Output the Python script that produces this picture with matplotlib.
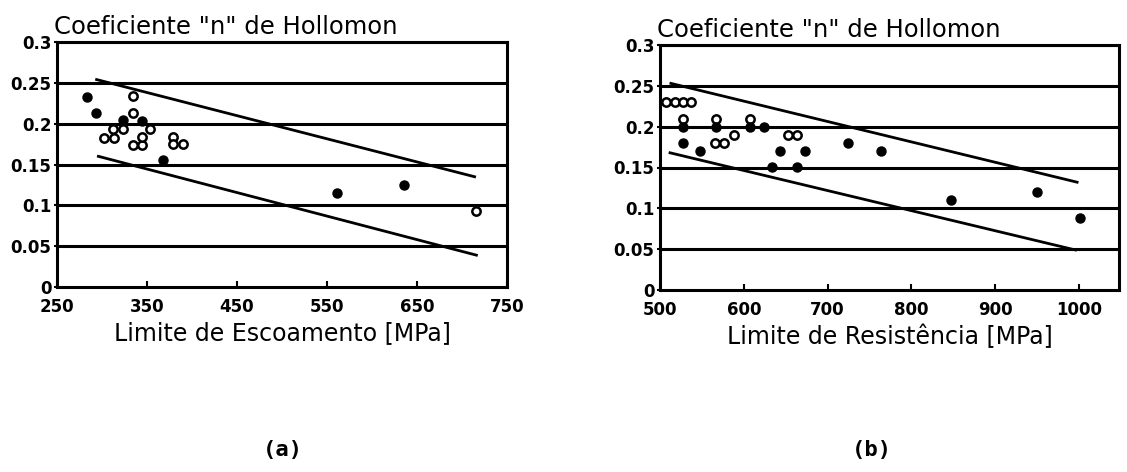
import matplotlib
matplotlib.use("Agg")
import matplotlib.pyplot as plt

# (a) Limite de Escoamento [MPa] vs n
a_open_x = [302, 313, 312, 323, 353, 334, 344, 344, 379, 379, 390, 334, 334, 716]
a_open_n = [0.183, 0.183, 0.194, 0.194, 0.194, 0.174, 0.174, 0.184, 0.184, 0.175, 0.175, 0.234, 0.213, 0.093]
a_fill_x = [283, 293, 323, 344, 368, 561, 636]
a_fill_n = [0.233, 0.213, 0.204, 0.203, 0.156, 0.115, 0.125]
a_upper_x, a_upper_n = [294, 714], [0.254, 0.135]
a_lower_x, a_lower_n = [296, 716], [0.160, 0.039]

# (b) Limite de Resistencia [MPa] vs n
b_open_x = [507, 518, 527, 537, 528, 567, 608, 566, 576, 588, 653, 663]
b_open_n = [0.230, 0.230, 0.230, 0.230, 0.210, 0.210, 0.210, 0.180, 0.180, 0.190, 0.190, 0.190]
b_fill_x = [528, 567, 608, 624, 528, 548, 634, 643, 663, 673, 725, 764, 847, 950, 1001]
b_fill_n = [0.200, 0.200, 0.200, 0.200, 0.180, 0.170, 0.151, 0.170, 0.151, 0.170, 0.180, 0.170, 0.110, 0.120, 0.088]
b_upper_x, b_upper_n = [513, 998], [0.253, 0.132]
b_lower_x, b_lower_n = [512, 996], [0.168, 0.049]

y_ticks = [0, 0.05, 0.1, 0.15, 0.2, 0.25, 0.3]
y_labels = ["0", "0.05", "0.1", "0.15", "0.2", "0.25", "0.3"]
a_ticks = [250, 350, 450, 550, 650, 750]
b_ticks = [500, 600, 700, 800, 900, 1000]

title = 'Coeficiente "n" de Hollomon'

fig = plt.figure(figsize=(11.27, 4.72), dpi=100)
ax1 = fig.add_axes([57 / 1127, 1 - 287 / 472, 450 / 1127, 245 / 472])
ax2 = fig.add_axes([660 / 1127, 1 - 290 / 472, 459 / 1127, 245 / 472])


def draw(ax, ox, on, fx, fn, ux, un, lx, ln, xticks, xlim, xlabel, cap, capx):
    for y in y_ticks[1:]:
        ax.axhline(y, color="black", lw=2.2, zorder=1)
    ax.plot(ux, un, color="black", lw=2.0, zorder=2)
    ax.plot(lx, ln, color="black", lw=2.0, zorder=2)
    ax.plot(ox, on, "o", ms=6, mfc="white", mec="black", mew=1.8, ls="none", zorder=3)
    ax.plot(fx, fn, "o", ms=6.5, mfc="black", mec="black", ls="none", zorder=3)
    ax.set_xlim(*xlim)
    ax.set_ylim(0, 0.3)
    ax.set_xticks(xticks)
    ax.set_xticklabels([str(t) for t in xticks], fontsize=12, fontweight="bold")
    ax.set_yticks(y_ticks)
    ax.set_yticklabels(y_labels, fontsize=12, fontweight="bold")
    ax.tick_params(axis="x", direction="in", length=4, width=1.5, pad=8)
    ax.tick_params(axis="y", direction="out", length=2, width=1.5, pad=2)
    for s in ax.spines.values():
        s.set_linewidth(2.2)
    ax.text(-0.006, 1.033, title, transform=ax.transAxes, ha="left",
            va="baseline", fontsize=17.5)
    ax.text(0.5, -0.19, xlabel, transform=ax.transAxes, ha="center",
            va="center", fontsize=17)
    fig.text(capx / 1127, 1 - 450 / 472, cap, ha="center", va="center",
             fontsize=16, fontweight="bold", family="DejaVu Sans Mono")


draw(ax1, a_open_x, a_open_n, a_fill_x, a_fill_n, a_upper_x, a_upper_n,
     a_lower_x, a_lower_n, a_ticks, (250, 750), "Limite de Escoamento [MPa]",
     "(a)", 283)
draw(ax2, b_open_x, b_open_n, b_fill_x, b_fill_n, b_upper_x, b_upper_n,
     b_lower_x, b_lower_n, b_ticks, (500, 1048), "Limite de Resistência [MPa]",
     "(b)", 872)

fig.savefig("out.png", dpi=100)
